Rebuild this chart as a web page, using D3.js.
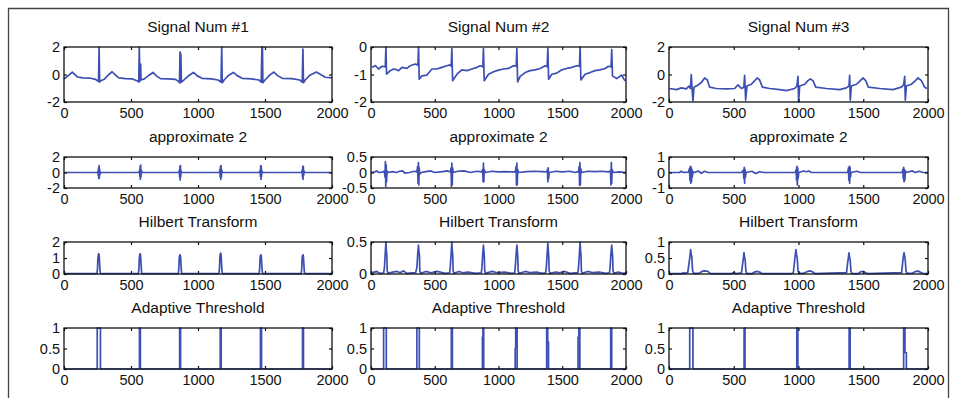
<!DOCTYPE html>
<html>
<head>
<meta charset="utf-8">
<script src="https://cdn.jsdelivr.net/npm/d3@7"></script>
<style>
  body { margin: 0; background: #fff; }
  text { font-family: Arial, "Liberation Sans", sans-serif; fill: #111; }
</style>
</head>
<body>
<div id="fig"></div>
<script>
// ---- data ----
const xTicks = [0, 500, 1000, 1500, 2000];

const titles = [
  ["Signal Num #1", "Signal Num #2", "Signal Num #3"],
  ["approximate 2", "approximate 2", "approximate 2"],
  ["Hilbert Transform", "Hilbert Transform", "Hilbert Transform"],
  ["Adaptive Threshold", "Adaptive Threshold", "Adaptive Threshold"]
];

const yDomains = [
  [[-2, 2], [-2, 0], [-2, 2]],
  [[-2, 2], [-0.5, 0.5], [-1, 1]],
  [[0, 2], [0, 0.5], [0, 1]],
  [[0, 1], [0, 1], [0, 1]]
];

const yTicks = [
  [[-2, 0, 2], [-2, -1, 0], [-2, 0, 2]],
  [[-2, 0, 2], [-0.5, 0, 0.5], [-1, 0, 1]],
  [[0, 1, 2], [0, 0.5], [0, 0.5, 1]],
  [[0, 0.5, 1], [0, 0.5, 1], [0, 0.5, 1]]
];

// raw ECG signals [sample, value]
const sig1 = [[0,-0.33],[30,-0.1],[62,0.18],[99,-0.18],[140,-0.25],[198,-0.27],[235,-0.35],[250,-0.45],[258,-0.5],[262,2.0],[266,-0.55],[275,-0.45],[300,-0.35],[330,-0.05],[359,0.2],[385,-0.05],[409,-0.25],[460,-0.3],[508,-0.32],[545,-0.45],[558,-0.55],[562,2.0],[566,-0.5],[572,0.75],[575,-0.4],[600,-0.32],[635,-0.05],[664,0.15],[690,-0.1],[720,-0.3],[780,-0.32],[830,-0.35],[855,-0.5],[862,-0.6],[866,1.65],[869,-0.6],[872,1.5],[876,-0.55],[900,-0.35],[935,-0.05],[966,0.15],[995,-0.1],[1030,-0.28],[1100,-0.32],[1150,-0.4],[1172,-0.55],[1177,2.0],[1181,-0.6],[1195,-0.4],[1230,-0.05],[1264,0.15],[1295,-0.1],[1330,-0.28],[1400,-0.32],[1455,-0.4],[1472,-0.55],[1477,2.0],[1481,2.0],[1484,-0.6],[1500,-0.4],[1535,-0.05],[1566,0.18],[1597,-0.1],[1630,-0.28],[1700,-0.3],[1760,-0.4],[1778,-0.55],[1783,1.85],[1787,-0.6],[1800,-0.4],[1835,-0.05],[1883,0.18],[1915,0.0],[1950,-0.2],[2000,-0.25]];

const sig2 = [[8,-0.74],[34,-0.68],[60,-0.8],[86,-0.7],[112,-0.72],[117,0],[122,-0.99],[151,-0.86],[178,-0.8],[200,-0.82],[217,-0.86],[243,-0.74],[282,-0.78],[308,-0.68],[347,-0.62],[368,-0.66],[373,0],[378,-1.17],[399,-1.05],[439,-1.02],[478,-0.8],[517,-0.8],[556,-0.74],[595,-0.68],[621,-0.65],[629,-0.7],[634,-0.06],[640,-1.23],[674,-0.99],[713,-0.83],[752,-0.86],[791,-0.8],[830,-0.74],[856,-0.68],[877,-0.72],[882,-0.06],[888,-1.23],[922,-0.99],[961,-0.9],[1000,-0.84],[1039,-0.8],[1078,-0.78],[1117,-0.68],[1139,-0.7],[1144,-0.06],[1150,-1.27],[1170,-1.07],[1209,-0.93],[1248,-0.86],[1287,-0.83],[1326,-0.78],[1366,-0.68],[1382,-0.72],[1387,-0.04],[1393,-1.17],[1418,-0.99],[1457,-0.95],[1496,-0.83],[1535,-0.78],[1574,-0.74],[1614,-0.68],[1635,-0.7],[1640,0],[1646,-1.2],[1679,-0.99],[1718,-0.93],[1757,-0.86],[1796,-0.83],[1836,-0.78],[1862,-0.7],[1883,-0.72],[1888,-0.09],[1894,-1.05],[1927,-1.15],[1966,-1.02],[1992,-1.23]];

const sig3 = [[5,-1.02],[57,-1.1],[95,-0.97],[134,-1.05],[154,-0.84],[165,-1.02],[172,0.0],[178,-1.02],[185,-1.92],[193,-0.92],[224,-0.76],[250,-0.58],[275,-0.25],[296,-0.4],[314,-0.92],[366,-1.02],[443,-1.05],[507,-1.02],[533,-0.76],[559,-1.02],[578,-0.92],[584,-0.06],[588,-1.0],[592,-1.87],[602,-0.84],[636,-0.71],[662,-0.45],[680,-0.25],[700,-0.4],[721,-0.92],[777,-1.02],[855,-1.1],[906,-1.17],[970,-1.02],[988,-0.84],[996,-0.14],[1001,-2.0],[1009,-0.84],[1048,-0.71],[1073,-0.45],[1091,-0.32],[1112,-0.45],[1133,-0.92],[1215,-1.02],[1318,-1.1],[1369,-0.97],[1390,-0.84],[1395,-0.06],[1400,-1.87],[1408,-0.84],[1447,-0.71],[1472,-0.5],[1498,-0.25],[1519,-0.45],[1539,-0.92],[1627,-1.02],[1730,-1.1],[1794,-0.92],[1812,-0.76],[1820,-0.14],[1825,-1.87],[1833,-0.84],[1871,-0.71],[1897,-0.5],[1923,-0.25],[1949,-0.45],[1974,-0.92],[1992,-1.02]];

// wavelet approximation level 2
const apx1 = [[0,0],[250,0],[254,0.2],[256,-0.4],[258,0.6],[260,-0.8],[262,0.9],[264,-0.7],[266,0.4],[269,-0.2],[274,0],[560,0],[564,0.3],[566,-0.5],[568,0.8],[570,-0.9],[572,0.95],[574,-0.6],[577,0.3],[582,0],[857,0],[861,0.3],[863,-0.6],[865,0.8],[867,-1.0],[869,0.9],[871,-0.5],[874,0.2],[879,0],[1160,0],[1164,0.4],[1166,-0.6],[1168,0.8],[1170,-0.9],[1172,0.9],[1174,-0.6],[1177,0.3],[1182,0],[1460,0],[1464,0.3],[1466,-0.5],[1468,0.9],[1470,-0.9],[1472,0.8],[1474,-0.5],[1477,0.2],[1482,0],[1774,0],[1778,0.3],[1780,-0.6],[1782,0.8],[1784,-0.9],[1786,0.8],[1788,-0.4],[1791,0.2],[1796,0],[2000,0]];

const apx2 = [[0,0],[30,0.02],[45,0.05],[60,0],[90,0.01],[105,0.05],[110,-0.15],[113,0.35],[116,-0.45],[119,0.25],[122,-0.3],[126,0.05],[135,0],[170,0.03],[200,0],[225,0.04],[250,0.05],[265,-0.02],[300,0],[340,0.04],[360,0.02],[366,0.2],[369,-0.35],[372,0.32],[375,-0.4],[378,0.15],[382,-0.05],[395,0],[430,0.03],[470,0.05],[500,0],[560,0.03],[600,0.05],[622,0.02],[628,0.15],[631,-0.45],[634,0.3],[637,-0.4],[640,0.15],[645,0],[680,0.04],[730,0.05],[780,0],[830,0.04],[870,0.02],[876,0.1],[879,-0.3],[882,0.3],[885,-0.3],[888,0.1],[895,0],[950,0.04],[1000,0.02],[1050,0.03],[1100,0.02],[1132,0.02],[1138,0.2],[1141,-0.4],[1144,0.3],[1147,-0.4],[1150,0.1],[1158,0],[1220,0.03],[1280,0.04],[1340,0.03],[1380,0.02],[1384,0.1],[1387,-0.3],[1390,0.15],[1393,-0.2],[1398,0],[1450,0.04],[1500,0.02],[1560,0.04],[1600,0],[1628,0.03],[1633,0.2],[1636,-0.42],[1639,0.32],[1642,-0.4],[1645,0.12],[1652,0],[1700,0.04],[1760,0.03],[1810,0.04],[1860,0.02],[1878,0.05],[1882,-0.4],[1885,0.32],[1888,-0.35],[1891,0.1],[1898,0],[1950,0.02],[2000,0]];

const apx3 = [[0,0],[80,0],[95,0.08],[110,0],[150,0.02],[158,0.25],[162,-0.5],[165,0.4],[168,-0.7],[171,0.35],[174,-0.6],[177,0.2],[180,-0.3],[185,0.05],[200,0],[225,0.1],[250,-0.05],[275,0.08],[300,0],[560,0],[574,0.15],[578,-0.4],[581,0.34],[584,-0.7],[587,0.2],[590,-0.3],[595,0],[640,0.08],[670,-0.06],[700,0.05],[730,0],[975,0],[982,0.2],[985,-0.5],[988,0.4],[991,-0.8],[994,0.3],[997,-0.4],[1002,0],[1040,0.1],[1060,0.05],[1080,0.1],[1100,0],[1380,0],[1386,0.3],[1389,-0.5],[1392,0.4],[1395,-0.7],[1398,0.35],[1401,-0.3],[1406,0],[1450,0.08],[1480,0],[1800,0],[1806,0.2],[1809,-0.4],[1812,0.34],[1815,-0.6],[1818,0.2],[1821,-0.5],[1825,0.1],[1830,0],[1880,0.1],[1900,0],[1935,0.08],[1960,0],[2000,0]];

// Hilbert envelope
const hil1 = [[0,0.02],[246,0.02],[250,0.3],[253,1.0],[256,1.2],[260,1.27],[263,1.1],[266,0.6],[270,0.1],[276,0.02],[555,0.02],[559,0.3],[562,1.0],[565,1.2],[569,1.27],[572,1.1],[575,0.6],[579,0.1],[585,0.02],[853,0.02],[857,0.3],[860,1.0],[863,1.15],[867,1.2],[870,1.05],[873,0.6],[877,0.1],[883,0.02],[1156,0.02],[1160,0.3],[1163,1.0],[1166,1.25],[1170,1.3],[1173,1.1],[1176,0.6],[1180,0.1],[1186,0.02],[1456,0.02],[1460,0.3],[1463,1.0],[1466,1.15],[1470,1.2],[1473,1.05],[1476,0.6],[1480,0.1],[1486,0.02],[1770,0.02],[1774,0.3],[1777,1.0],[1780,1.15],[1784,1.2],[1787,1.05],[1790,0.6],[1794,0.1],[1800,0.02],[2000,0.02]];

const hil2 = [[0,0.01],[25,0.03],[45,0.04],[70,0.01],[100,0.02],[106,0.12],[111,0.3],[117,0.5],[121,0.35],[124,0.3],[127,0.05],[134,0.01],[170,0.03],[205,0.04],[230,0.02],[255,0.05],[280,0.01],[350,0.02],[360,0.1],[366,0.3],[372,0.45],[376,0.35],[380,0.3],[383,0.05],[390,0.01],[430,0.04],[470,0.02],[520,0.04],[580,0.01],[617,0.02],[622,0.12],[628,0.3],[634,0.5],[638,0.35],[641,0.3],[644,0.05],[651,0.01],[690,0.04],[720,0.02],[760,0.03],[820,0.01],[865,0.02],[870,0.1],[876,0.3],[882,0.45],[886,0.35],[889,0.25],[892,0.05],[899,0.01],[950,0.04],[990,0.02],[1050,0.03],[1100,0.01],[1127,0.02],[1132,0.12],[1138,0.3],[1144,0.45],[1148,0.35],[1151,0.28],[1154,0.05],[1161,0.01],[1210,0.04],[1250,0.02],[1300,0.03],[1340,0.01],[1370,0.02],[1375,0.1],[1381,0.3],[1387,0.48],[1391,0.35],[1394,0.28],[1397,0.05],[1404,0.01],[1450,0.03],[1480,0.02],[1520,0.04],[1560,0.01],[1623,0.02],[1628,0.12],[1634,0.3],[1640,0.5],[1644,0.35],[1647,0.3],[1650,0.05],[1657,0.01],[1700,0.04],[1740,0.02],[1790,0.03],[1840,0.01],[1870,0.02],[1875,0.1],[1881,0.3],[1888,0.45],[1892,0.35],[1895,0.28],[1898,0.05],[1905,0.01],[1940,0.03],[1970,0.01],[2000,0.02]];

const hil3 = [[0,0.01],[100,0.01],[110,0.04],[125,0.02],[145,0.05],[155,0.35],[160,0.5],[167,0.76],[172,0.6],[176,0.55],[182,0.1],[190,0.02],[230,0.02],[255,0.08],[275,0.1],[300,0.08],[320,0.01],[480,0.01],[500,0.05],[520,0.01],[560,0.04],[568,0.3],[573,0.45],[579,0.67],[584,0.5],[588,0.45],[594,0.08],[602,0.01],[640,0.01],[660,0.06],[680,0.08],[700,0.06],[720,0.01],[940,0.01],[960,0.04],[967,0.3],[972,0.5],[980,0.76],[985,0.6],[990,0.5],[996,0.1],[1004,0.02],[1040,0.02],[1070,0.08],[1090,0.1],[1110,0.06],[1130,0.01],[1371,0.04],[1378,0.3],[1383,0.45],[1390,0.66],[1395,0.5],[1399,0.45],[1405,0.08],[1413,0.01],[1460,0.01],[1480,0.07],[1500,0.08],[1520,0.04],[1540,0.01],[1796,0.04],[1803,0.3],[1808,0.5],[1815,0.67],[1820,0.55],[1824,0.45],[1830,0.1],[1838,0.02],[1880,0.03],[1905,0.08],[1925,0.09],[1945,0.05],[1965,0.01],[2000,0.01]];

// adaptive threshold detector output
const thr1 = [[0,0],[248,0],[248,1],[272,1],[272,0],[563,0],[563,1],[570,1],[570,0],[863,0],[863,1],[870,1],[870,0],[1166,0],[1166,1],[1173,1],[1173,0],[1466,0],[1466,1],[1474,1],[1474,0],[1780,0],[1780,1],[1787,1],[1787,0],[2000,0]];

const thr2 = [[0,0],[99,0],[99,1],[120,1],[120,0],[360,0],[360,1],[379,1],[379,0],[630,0],[630,1],[638,1],[638,0],[874,0],[874,0.78],[878,0.78],[878,1],[884,1],[884,0],[1131,0],[1131,0.5],[1135,0.5],[1135,1],[1146,1],[1146,0],[1378,0],[1378,1],[1386,1],[1386,0.66],[1392,0.66],[1392,0],[1624,0],[1624,0.78],[1630,0.78],[1630,1],[1638,1],[1638,0],[1880,0],[1880,1],[1888,1],[1888,0],[2000,0]];

const thr3 = [[0,0],[160,0],[160,1],[185,1],[185,0],[580,0],[580,1],[587,1],[587,0],[987,0],[987,1],[995,1],[995,0],[1391,0],[1391,1],[1399,1],[1399,0],[1812,0],[1812,1],[1822,1],[1822,0.4],[1833,0.4],[1833,0],[2000,0]];

const traces = [
  [sig1, sig2, sig3],
  [apx1, apx2, apx3],
  [hil1, hil2, hil3],
  [thr1, thr2, thr3]
];

// ---- layout ----
const width = 960, height = 398;
const colLeft = [64, 371, 669], colRight = [332, 626, 928];
const rowTop = [47, 157, 242, 328], rowBottom = [102, 188, 274, 369];
const lineColor = "#3d4fb3";

let svg = d3.select("#fig")
  .append("svg")
  .attr("width", width)
  .attr("height", height)
  .attr("viewBox", [0, 0, width, height]);

// outer frame of the figure
svg.append("path")
  .attr("d", "M8.5,400 V8.5 H948.5 V400")
  .attr("fill", "none")
  .attr("stroke", "#444")
  .attr("stroke-width", 1.3);

const fmt = d => String(d);

for (let r = 0; r < 4; r++) {
  for (let c = 0; c < 3; c++) {
    const w = colRight[c] - colLeft[c], h = rowBottom[r] - rowTop[r];
    let x = d3.scaleLinear().domain([0, 2000]).range([0, w]);
    let y = d3.scaleLinear().domain(yDomains[r][c]).range([h, 0]);

    let g = svg.append("g")
      .attr("transform", `translate(${colLeft[c]},${rowTop[r]})`);

    const clipId = `clip-${r}-${c}`;
    g.append("clipPath").attr("id", clipId)
      .append("rect").attr("x", -1).attr("y", -1).attr("width", w + 2).attr("height", h + 2);

    // data line
    g.append("path")
      .datum(traces[r][c])
      .attr("clip-path", `url(#${clipId})`)
      .attr("fill", "none")
      .attr("stroke", lineColor)
      .attr("stroke-width", 1.7)
      .attr("stroke-linejoin", "round")
      .attr("d", d3.line().x(d => x(d[0])).y(d => y(d[1])));

    // inward ticks on all four sides, matlab style
    let bottom = g.append("g")
      .attr("transform", `translate(0,${h})`)
      .call(d3.axisBottom(x).tickValues(xTicks).tickFormat(fmt)
        .tickSizeInner(-3).tickSizeOuter(0).tickPadding(6));
    g.append("g")
      .call(d3.axisTop(x).tickValues(xTicks).tickFormat("")
        .tickSizeInner(-3).tickSizeOuter(0));
    let left = g.append("g")
      .call(d3.axisLeft(y).tickValues(yTicks[r][c]).tickFormat(fmt)
        .tickSizeInner(-3).tickSizeOuter(0).tickPadding(4));
    g.append("g")
      .attr("transform", `translate(${w},0)`)
      .call(d3.axisRight(y).tickValues(yTicks[r][c]).tickFormat("")
        .tickSizeInner(-3).tickSizeOuter(0));

    g.selectAll(".domain").remove();
    g.selectAll(".tick line").attr("stroke", "#111").attr("stroke-width", 1.2);
    g.selectAll(".tick text")
      .attr("fill", "#111")
      .style("font-size", "14.5px")
      .style("font-family", "Arial, 'Liberation Sans', sans-serif");

    // axes box
    g.append("rect")
      .attr("width", w).attr("height", h)
      .attr("fill", "none")
      .attr("stroke", "#111")
      .attr("stroke-width", 1.3);

    // title
    g.append("text")
      .attr("x", w / 2)
      .attr("y", -15.5)
      .attr("text-anchor", "middle")
      .style("font-size", "15.5px")
      .text(titles[r][c]);
  }
}
</script>
</body>
</html>
